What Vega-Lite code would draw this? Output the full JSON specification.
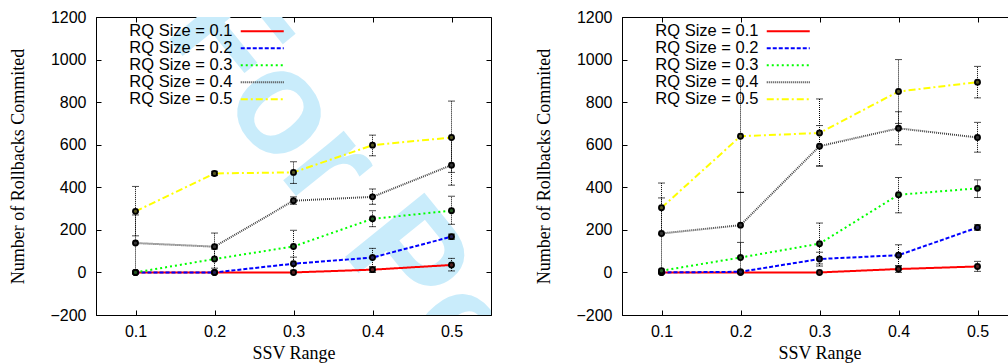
{
  "$schema": "https://vega.github.io/schema/vega-lite/v6.json",
  "padding": {"left": 9, "top": 8, "right": 0, "bottom": 0},
  "background": "white",
  "datasets": {
    "d": [
      {"p": "L", "s": "RQ Size = 0.1", "x": 0.1, "v": 0, "lo": 0, "hi": 0},
      {"p": "L", "s": "RQ Size = 0.1", "x": 0.2, "v": 0, "lo": 0, "hi": 0},
      {"p": "L", "s": "RQ Size = 0.1", "x": 0.3, "v": 0, "lo": 0, "hi": 0},
      {"p": "L", "s": "RQ Size = 0.1", "x": 0.4, "v": 13, "lo": 0, "hi": 27},
      {"p": "L", "s": "RQ Size = 0.1", "x": 0.5, "v": 35, "lo": 7, "hi": 66},
      {"p": "L", "s": "RQ Size = 0.2", "x": 0.1, "v": 0, "lo": 0, "hi": 0},
      {"p": "L", "s": "RQ Size = 0.2", "x": 0.2, "v": 0, "lo": 0, "hi": 0},
      {"p": "L", "s": "RQ Size = 0.2", "x": 0.3, "v": 41, "lo": 10, "hi": 72},
      {"p": "L", "s": "RQ Size = 0.2", "x": 0.4, "v": 70, "lo": 25, "hi": 113},
      {"p": "L", "s": "RQ Size = 0.2", "x": 0.5, "v": 168, "lo": 156, "hi": 180},
      {"p": "L", "s": "RQ Size = 0.3", "x": 0.1, "v": 0, "lo": 0, "hi": 0},
      {"p": "L", "s": "RQ Size = 0.3", "x": 0.2, "v": 63, "lo": 20, "hi": 110},
      {"p": "L", "s": "RQ Size = 0.3", "x": 0.3, "v": 122, "lo": 40, "hi": 198},
      {"p": "L", "s": "RQ Size = 0.3", "x": 0.4, "v": 252, "lo": 215, "hi": 290},
      {"p": "L", "s": "RQ Size = 0.3", "x": 0.5, "v": 290, "lo": 226, "hi": 358},
      {"p": "L", "s": "RQ Size = 0.4", "x": 0.1, "v": 138, "lo": 0, "hi": 270},
      {"p": "L", "s": "RQ Size = 0.4", "x": 0.2, "v": 121, "lo": 60, "hi": 185},
      {"p": "L", "s": "RQ Size = 0.4", "x": 0.3, "v": 337, "lo": 320, "hi": 355},
      {"p": "L", "s": "RQ Size = 0.4", "x": 0.4, "v": 355, "lo": 320, "hi": 392},
      {"p": "L", "s": "RQ Size = 0.4", "x": 0.5, "v": 504, "lo": 410, "hi": 630},
      {"p": "L", "s": "RQ Size = 0.5", "x": 0.1, "v": 287, "lo": 172, "hi": 404},
      {"p": "L", "s": "RQ Size = 0.5", "x": 0.2, "v": 465, "lo": 455, "hi": 475},
      {"p": "L", "s": "RQ Size = 0.5", "x": 0.3, "v": 470, "lo": 418, "hi": 520},
      {"p": "L", "s": "RQ Size = 0.5", "x": 0.4, "v": 598, "lo": 548, "hi": 645},
      {"p": "L", "s": "RQ Size = 0.5", "x": 0.5, "v": 634, "lo": 470, "hi": 805},
      {"p": "R", "s": "RQ Size = 0.1", "x": 0.1, "v": 0, "lo": 0, "hi": 0},
      {"p": "R", "s": "RQ Size = 0.1", "x": 0.2, "v": 0, "lo": 0, "hi": 0},
      {"p": "R", "s": "RQ Size = 0.1", "x": 0.3, "v": 0, "lo": 0, "hi": 0},
      {"p": "R", "s": "RQ Size = 0.1", "x": 0.4, "v": 16, "lo": 0, "hi": 32},
      {"p": "R", "s": "RQ Size = 0.1", "x": 0.5, "v": 28, "lo": 5, "hi": 52},
      {"p": "R", "s": "RQ Size = 0.2", "x": 0.1, "v": 0, "lo": 0, "hi": 0},
      {"p": "R", "s": "RQ Size = 0.2", "x": 0.2, "v": 3, "lo": 0, "hi": 10},
      {"p": "R", "s": "RQ Size = 0.2", "x": 0.3, "v": 63, "lo": 30, "hi": 95},
      {"p": "R", "s": "RQ Size = 0.2", "x": 0.4, "v": 81, "lo": 30, "hi": 130},
      {"p": "R", "s": "RQ Size = 0.2", "x": 0.5, "v": 211, "lo": 198, "hi": 224},
      {"p": "R", "s": "RQ Size = 0.3", "x": 0.1, "v": 8, "lo": 0, "hi": 15},
      {"p": "R", "s": "RQ Size = 0.3", "x": 0.2, "v": 70, "lo": 0, "hi": 141},
      {"p": "R", "s": "RQ Size = 0.3", "x": 0.3, "v": 135, "lo": 40, "hi": 232},
      {"p": "R", "s": "RQ Size = 0.3", "x": 0.4, "v": 365, "lo": 280, "hi": 446},
      {"p": "R", "s": "RQ Size = 0.3", "x": 0.5, "v": 395, "lo": 352, "hi": 435},
      {"p": "R", "s": "RQ Size = 0.4", "x": 0.1, "v": 183, "lo": 0, "hi": 350},
      {"p": "R", "s": "RQ Size = 0.4", "x": 0.2, "v": 222, "lo": 70, "hi": 376},
      {"p": "R", "s": "RQ Size = 0.4", "x": 0.3, "v": 593, "lo": 500, "hi": 690},
      {"p": "R", "s": "RQ Size = 0.4", "x": 0.4, "v": 677, "lo": 600, "hi": 755},
      {"p": "R", "s": "RQ Size = 0.4", "x": 0.5, "v": 634, "lo": 565, "hi": 705},
      {"p": "R", "s": "RQ Size = 0.5", "x": 0.1, "v": 304, "lo": 180, "hi": 420},
      {"p": "R", "s": "RQ Size = 0.5", "x": 0.2, "v": 640, "lo": 376, "hi": 905},
      {"p": "R", "s": "RQ Size = 0.5", "x": 0.3, "v": 655, "lo": 500, "hi": 815},
      {"p": "R", "s": "RQ Size = 0.5", "x": 0.4, "v": 850, "lo": 700, "hi": 1000},
      {"p": "R", "s": "RQ Size = 0.5", "x": 0.5, "v": 894, "lo": 820, "hi": 968}
    ]
  },
  "hconcat": [
    {
      "width": 395,
      "height": 298,
      "data": {"name": "d"},
      "transform": [{"filter": "datum.p == 'L'"}],
      "layer": [
        {
          "data": {"values": [{"wx": 0.1348, "wy": 1131, "t": "For Peer Review"}]},
          "mark": {"type": "text", "angle": 51, "align": "left", "baseline": "alphabetic", "font": "Liberation Sans", "fontWeight": "bold", "fontSize": 148, "color": "#c9ecfb", "clip": true},
          "encoding": {
            "x": {"field": "wx", "type": "quantitative", "axis": null, "scale": {"domain": [0.05, 0.55], "nice": false, "zero": false}},
            "y": {"field": "wy", "type": "quantitative", "axis": null, "scale": {"domain": [-200, 1200], "nice": false}},
            "text": {"field": "t"}
          }
        },
        {
          "transform": [{"filter": "datum.hi > datum.lo"}],
          "mark": {"type": "rule", "color": "black", "strokeDash": [1, 1], "strokeWidth": 1},
          "encoding": {
            "x": {"field": "x", "type": "quantitative", "axis": null},
            "y": {"field": "lo", "type": "quantitative", "axis": null},
            "y2": {"field": "hi"}
          }
        },
        {
          "transform": [{"filter": "datum.hi > datum.lo"}],
          "mark": {"type": "tick", "orient": "horizontal", "color": "black", "size": 7, "thickness": 1, "strokeDash": [1, 1]},
          "encoding": {
            "x": {"field": "x", "type": "quantitative", "axis": null},
            "y": {"field": "lo", "type": "quantitative", "axis": null}
          }
        },
        {
          "transform": [{"filter": "datum.hi > datum.lo"}],
          "mark": {"type": "tick", "orient": "horizontal", "color": "black", "size": 7, "thickness": 1, "strokeDash": [1, 1]},
          "encoding": {
            "x": {"field": "x", "type": "quantitative", "axis": null},
            "y": {"field": "hi", "type": "quantitative", "axis": null}
          }
        },
        {
          "mark": {"type": "line"},
          "encoding": {
            "x": {"field": "x", "type": "quantitative", "axis": {"orient": "bottom", "values": [0.1, 0.2, 0.3, 0.4, 0.5], "format": ".1f", "title": "SSV Range", "tickSize": -5, "labelPadding": 13, "titlePadding": 5}},
            "y": {"field": "v", "type": "quantitative", "axis": {"orient": "left", "values": [-200, 0, 200, 400, 600, 800, 1000, 1200], "format": "d", "title": "Number of Rollbacks Commited", "tickSize": -5, "labelPadding": 15, "titlePadding": 22}},
            "color": {"field": "s", "type": "nominal", "scale": {"domain": ["RQ Size = 0.1", "RQ Size = 0.2", "RQ Size = 0.3", "RQ Size = 0.4", "RQ Size = 0.5"], "range": ["#ff0000", "#0000ff", "#00ff00", "#444444", "#ffff00"]},
              "legend": {"orient": "none", "legendX": 158, "legendY": 6, "title": null, "symbolType": "M-4.3,0L4.3,0", "symbolSize": 100, "labelAlign": "right", "labelOffset": -38, "padding": 0, "rowPadding": -1.4, "labelFont": "Liberation Sans", "labelFontSize": 16.5, "labelColor": "black", "labelLimit": 300}},
            "strokeDash": {"field": "s", "type": "nominal", "scale": {"domain": ["RQ Size = 0.1", "RQ Size = 0.2", "RQ Size = 0.3", "RQ Size = 0.4", "RQ Size = 0.5"], "range": [[1, 0], [4, 2], [2, 3], [1, 1], [7, 3, 2, 3]]}},
            "strokeWidth": {"field": "s", "type": "nominal", "scale": {"domain": ["RQ Size = 0.1", "RQ Size = 0.2", "RQ Size = 0.3", "RQ Size = 0.4", "RQ Size = 0.5"], "range": [2, 2, 2, 1, 1.5]}}
          }
        },
        {
          "mark": {"type": "point", "shape": "circle", "filled": true, "stroke": "black", "strokeWidth": 1.8, "size": 26, "opacity": 1},
          "encoding": {
            "x": {"field": "x", "type": "quantitative", "axis": {"orient": "top", "labels": false, "title": null, "domain": false, "tickSize": -5, "values": [0.1, 0.2, 0.3, 0.4, 0.5]}},
            "y": {"field": "v", "type": "quantitative", "axis": {"orient": "right", "labels": false, "title": null, "domain": false, "tickSize": -5, "values": [-200, 0, 200, 400, 600, 800, 1000, 1200]}},
            "fill": {"field": "s", "type": "nominal", "legend": null, "scale": {"domain": ["RQ Size = 0.1", "RQ Size = 0.2", "RQ Size = 0.3", "RQ Size = 0.4", "RQ Size = 0.5"], "range": ["#552222", "#222255", "#225522", "#333333", "#555522"]}}
          }
        }
      ],
      "resolve": {"axis": {"x": "independent", "y": "independent"}}
    },
    {
      "width": 395,
      "height": 298,
      "data": {"name": "d"},
      "transform": [{"filter": "datum.p == 'R'"}],
      "layer": [
        {
          "transform": [{"filter": "datum.hi > datum.lo"}],
          "mark": {"type": "rule", "color": "black", "strokeDash": [1, 1], "strokeWidth": 1},
          "encoding": {
            "x": {"field": "x", "type": "quantitative", "axis": null, "scale": {"domain": [0.05, 0.55], "nice": false, "zero": false}},
            "y": {"field": "lo", "type": "quantitative", "axis": null, "scale": {"domain": [-200, 1200], "nice": false}},
            "y2": {"field": "hi"}
          }
        },
        {
          "transform": [{"filter": "datum.hi > datum.lo"}],
          "mark": {"type": "tick", "orient": "horizontal", "color": "black", "size": 7, "thickness": 1, "strokeDash": [1, 1]},
          "encoding": {
            "x": {"field": "x", "type": "quantitative", "axis": null},
            "y": {"field": "lo", "type": "quantitative", "axis": null}
          }
        },
        {
          "transform": [{"filter": "datum.hi > datum.lo"}],
          "mark": {"type": "tick", "orient": "horizontal", "color": "black", "size": 7, "thickness": 1, "strokeDash": [1, 1]},
          "encoding": {
            "x": {"field": "x", "type": "quantitative", "axis": null},
            "y": {"field": "hi", "type": "quantitative", "axis": null}
          }
        },
        {
          "mark": {"type": "line"},
          "encoding": {
            "x": {"field": "x", "type": "quantitative", "axis": {"orient": "bottom", "values": [0.1, 0.2, 0.3, 0.4, 0.5], "format": ".1f", "title": "SSV Range", "tickSize": -5, "labelPadding": 13, "titlePadding": 5}},
            "y": {"field": "v", "type": "quantitative", "axis": {"orient": "left", "values": [-200, 0, 200, 400, 600, 800, 1000, 1200], "format": "d", "title": "Number of Rollbacks Commited", "tickSize": -5, "labelPadding": 15, "titlePadding": 22}},
            "color": {"field": "s", "type": "nominal", "scale": {"domain": ["RQ Size = 0.1", "RQ Size = 0.2", "RQ Size = 0.3", "RQ Size = 0.4", "RQ Size = 0.5"], "range": ["#ff0000", "#0000ff", "#00ff00", "#444444", "#ffff00"]},
              "legend": {"orient": "none", "legendX": 158, "legendY": 6, "title": null, "symbolType": "M-4.3,0L4.3,0", "symbolSize": 100, "labelAlign": "right", "labelOffset": -38, "padding": 0, "rowPadding": -1.4, "labelFont": "Liberation Sans", "labelFontSize": 16.5, "labelColor": "black", "labelLimit": 300}},
            "strokeDash": {"field": "s", "type": "nominal", "scale": {"domain": ["RQ Size = 0.1", "RQ Size = 0.2", "RQ Size = 0.3", "RQ Size = 0.4", "RQ Size = 0.5"], "range": [[1, 0], [4, 2], [2, 3], [1, 1], [7, 3, 2, 3]]}},
            "strokeWidth": {"field": "s", "type": "nominal", "scale": {"domain": ["RQ Size = 0.1", "RQ Size = 0.2", "RQ Size = 0.3", "RQ Size = 0.4", "RQ Size = 0.5"], "range": [2, 2, 2, 1, 1.5]}}
          }
        },
        {
          "mark": {"type": "point", "shape": "circle", "filled": true, "stroke": "black", "strokeWidth": 1.8, "size": 26, "opacity": 1},
          "encoding": {
            "x": {"field": "x", "type": "quantitative", "axis": {"orient": "top", "labels": false, "title": null, "domain": false, "tickSize": -5, "values": [0.1, 0.2, 0.3, 0.4, 0.5]}},
            "y": {"field": "v", "type": "quantitative", "axis": {"orient": "right", "labels": false, "title": null, "domain": false, "tickSize": -5, "values": [-200, 0, 200, 400, 600, 800, 1000, 1200]}},
            "fill": {"field": "s", "type": "nominal", "legend": null, "scale": {"domain": ["RQ Size = 0.1", "RQ Size = 0.2", "RQ Size = 0.3", "RQ Size = 0.4", "RQ Size = 0.5"], "range": ["#552222", "#222255", "#225522", "#333333", "#555522"]}}
          }
        }
      ],
      "resolve": {"axis": {"x": "independent", "y": "independent"}}
    }
  ],
  "spacing": 131,
  "bounds": "flush",
  "resolve": {
    "scale": {"color": "independent", "strokeDash": "independent", "strokeWidth": "independent", "fill": "independent", "x": "independent", "y": "independent"},
    "legend": {"color": "independent", "strokeDash": "independent", "strokeWidth": "independent", "fill": "independent"}
  },
  "config": {
    "view": {"stroke": "black", "strokeWidth": 1},
    "axis": {"grid": false, "domainColor": "black", "domainWidth": 1, "tickColor": "black", "tickWidth": 1, "labelColor": "black", "labelFont": "Liberation Sans", "labelFontSize": 16, "titleFont": "Liberation Serif", "titleFontSize": 18, "titleFontWeight": "normal", "titleColor": "black"}
  }
}
